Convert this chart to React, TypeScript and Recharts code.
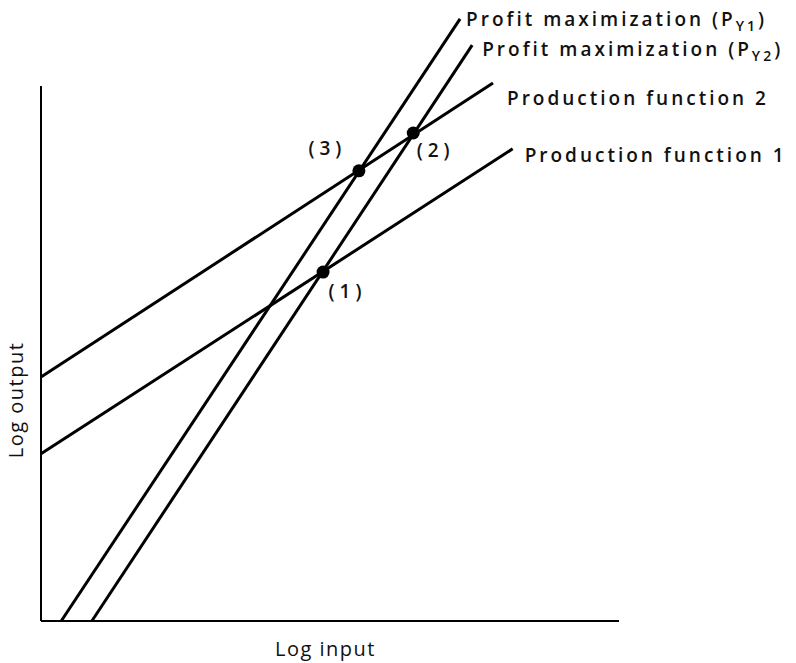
import React from 'react';
import { ComposedChart, Line, Scatter, XAxis, YAxis, ReferenceLine, LabelList } from 'recharts';

// endpoints of each curve, in log units
const profitY1 = [{ x: 0.35, y: 0 }, { x: 7.25, y: 9.87 }];
const profitY2 = [{ x: 0.88, y: 0 }, { x: 7.46, y: 9.44 }];
const production2 = [{ x: 0, y: 4.0 }, { x: 7.82, y: 8.82 }];
const production1 = [{ x: 0, y: 2.74 }, { x: 8.16, y: 7.74 }];

const equilibria = [
  { x: 4.88, y: 5.72, label: '(1)' },
  { x: 6.44, y: 8.0, label: '(2)' },
  { x: 5.5, y: 7.38, label: '(3)' },
];

const xAxisEnd = 10;
const yAxisEnd = 8.77;

const font = '"Open Sans", "DejaVu Sans", sans-serif';
const textStyle = { fontFamily: font, fontSize: 19, fontWeight: 600, fill: '#111', letterSpacing: 3 };

const endLabel = (name: string, sub: string | null, dx: number, dy: number, last: number) => (props: any) => {
  if (props.index !== last) return null;
  return (
    <text x={props.x + dx} y={props.y + dy} dominantBaseline="central" style={textStyle}>
      {name}
      {sub && (
        <>
          <tspan dy={6} fontSize={14}>{sub}</tspan>
          <tspan dy={-6}>)</tspan>
        </>
      )}
    </text>
  );
};

const pointOffsets: Record<string, { dx: number; dy: number; anchor: 'start' | 'end' }> = {
  '(1)': { dx: 10, dy: 23, anchor: 'start' },
  '(2)': { dx: 8, dy: 22, anchor: 'start' },
  '(3)': { dx: -8, dy: -18, anchor: 'end' },
};

const pointLabel = (props: any) => {
  const o = pointOffsets[props.value];
  return (
    <text x={props.x + o.dx} y={props.y + o.dy} textAnchor={o.anchor} dominantBaseline="central" style={{ ...textStyle, letterSpacing: 5 }}>
      {props.value}
    </text>
  );
};

const Dot = (props: any) => <circle cx={props.cx} cy={props.cy} r={6.5} fill="#000" />;

export default function App() {
  return (
    <div style={{ position: 'absolute', left: 0, top: 0, width: 796, height: 663, background: '#fff' }}>
      <ComposedChart width={796} height={663} margin={{ top: 11, right: 177, bottom: 42, left: 41 }}>
        <XAxis type="number" dataKey="x" domain={[0, 10]} hide />
        <YAxis type="number" dataKey="y" domain={[0, 10]} hide />
        <ReferenceLine segment={[{ x: 0, y: 0 }, { x: xAxisEnd, y: 0 }]} stroke="#000" strokeWidth={2} ifOverflow="visible" />
        <ReferenceLine segment={[{ x: 0, y: 0 }, { x: 0, y: yAxisEnd }]} stroke="#000" strokeWidth={2} ifOverflow="visible" />
        <Line data={profitY1} dataKey="y" type="linear" stroke="#000" strokeWidth={3} dot={false} isAnimationActive={false}>
          <LabelList dataKey="y" content={endLabel('Profit maximization (P', 'Y1', 6, 0, 1)} />
        </Line>
        <Line data={profitY2} dataKey="y" type="linear" stroke="#000" strokeWidth={3} dot={false} isAnimationActive={false}>
          <LabelList dataKey="y" content={endLabel('Profit maximization (P', 'Y2', 10, 4, 1)} />
        </Line>
        <Line data={production2} dataKey="y" type="linear" stroke="#000" strokeWidth={3} dot={false} isAnimationActive={false}>
          <LabelList dataKey="y" content={endLabel('Production function 2', null, 14, 15, 1)} />
        </Line>
        <Line data={production1} dataKey="y" type="linear" stroke="#000" strokeWidth={3} dot={false} isAnimationActive={false}>
          <LabelList dataKey="y" content={endLabel('Production function 1', null, 12, 6, 1)} />
        </Line>
        <Scatter data={equilibria} dataKey="y" shape={Dot} isAnimationActive={false}>
          <LabelList dataKey="label" content={pointLabel} />
        </Scatter>
      </ComposedChart>
      <div style={{ position: 'absolute', left: 275, top: 635, fontFamily: font, fontSize: 20, fontWeight: 500, letterSpacing: 1.5, color: '#111' }}>
        Log input
      </div>
      <div style={{ position: 'absolute', left: 15, top: 400, transform: 'translate(-50%, -50%) rotate(-90deg)', whiteSpace: 'nowrap', fontFamily: font, fontSize: 20, fontWeight: 500, letterSpacing: 1.5, color: '#111' }}>
        Log output
      </div>
    </div>
  );
}
